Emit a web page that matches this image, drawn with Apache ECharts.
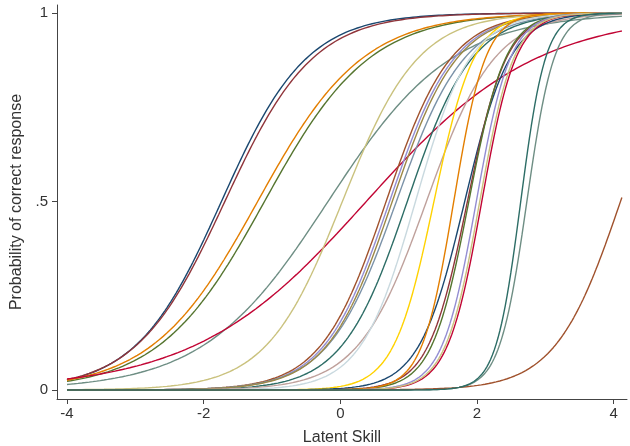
<!DOCTYPE html>
<html>
<head>
<meta charset="utf-8">
<script src="https://cdn.jsdelivr.net/npm/echarts@6/dist/echarts.min.js"></script>
<style>
html,body{margin:0;padding:0;background:#fff;}
#chart{width:630px;height:446px;}
</style>
</head>
<body>
<div id="chart"></div>
<script>
// Item parameters (2PL item characteristic curves)
const itemDifficulty = [-1.74, -1.69, -1.11, -1.21, -0.18, 0.38, 0.72, 0.03, 0.67, 0.82, 0.98, 0.76, 1.26, 1.37, 1.10,
                        1.82, 1.86, 1.88, 1.66, 2.73, 2.07, 1.99, 2.04, 4.10, 2.64];
const itemDiscrimination = [1.60, 1.55, 1.30, 1.30, 1.10, 0.80, 2.10, 1.80, 2.10, 2.00, 2.10, 2.10, 2.00, 3.40, 2.50,
                            3.00, 3.50, 3.70, 4.30, 5.00, 4.00, 4.00, 4.00, 2.10, 5.50];
const itemColors = ['#1a476f','#90353b','#55752f','#e37e00','#6e8e84','#c10534','#938dd2','#cac27e','#a0522d','#7b92a8','#2d6d66','#9c8847','#bfa19c','#ffd200','#c9d9df',
                    '#1a476f','#90353b','#55752f','#e37e00','#6e8e84','#c10534','#938dd2','#cac27e','#a0522d','#2d6d66'];
const thetaRange = [-4, 4.12];
const xTicks = [-4, -2, 0, 2, 4];
const yTicks = [0, 0.5, 1];
const yTickLabels = ['0', '.5', '1'];

function icc(a, b) {
  const pts = [];
  const n = 300;
  for (let i = 0; i <= n; i++) {
    const t = thetaRange[0] + (thetaRange[1] - thetaRange[0]) * i / n;
    pts.push([t, 1 / (1 + Math.exp(-a * (t - b)))]);
  }
  return pts;
}

const series = itemDifficulty.map((b, i) => ({
  type: 'line',
  data: icc(itemDiscrimination[i], b),
  showSymbol: false,
  symbol: 'none',
  lineStyle: { color: itemColors[i], width: 1.4 },
  silent: true,
  clip: false
}));

const font = 'Liberation Sans, Arial, sans-serif';
const chart = echarts.init(document.getElementById('chart'), null, {renderer: 'canvas'});
chart.setOption({
  animation: false,
  backgroundColor: '#ffffff',
  grid: { left: 57, right: 3, top: 5, bottom: 47, containLabel: false, outerBoundsMode: 'none' },
  xAxis: {
    type: 'value', min: -4.146, max: 4.195,
    name: 'Latent Skill', nameLocation: 'middle', nameGap: 31,
    nameTextStyle: { fontFamily: font, fontSize: 16, color: '#333' },
    axisLine: { show: true, onZero: false, lineStyle: { color: '#444', width: 1 } },
    axisTick: { show: true, length: 5, customValues: xTicks, lineStyle: { color: '#444' } },
    axisLabel: { customValues: xTicks, margin: 7, fontFamily: font, fontSize: 15, color: '#333',
                 formatter: v => String(v) },
    splitLine: { show: false }
  },
  yAxis: {
    type: 'value', min: -0.0239, max: 1.0212,
    name: 'Probability of correct response', nameLocation: 'middle', nameGap: 31,
    nameTextStyle: { fontFamily: font, fontSize: 16, color: '#333' },
    axisLine: { show: true, onZero: false, lineStyle: { color: '#444', width: 1 } },
    axisTick: { show: true, length: 5, customValues: yTicks, lineStyle: { color: '#444' } },
    axisLabel: { customValues: yTicks, margin: 9, fontFamily: font, fontSize: 15, color: '#333',
                 formatter: v => yTickLabels[yTicks.indexOf(v)] !== undefined ? yTickLabels[yTicks.indexOf(v)] : '' },
    splitLine: { show: false }
  },
  series: series
});
</script>
</body>
</html>
